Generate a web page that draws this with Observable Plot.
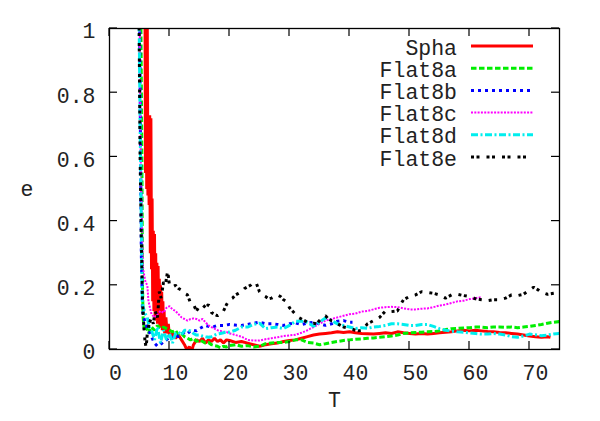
<!DOCTYPE html>
<html>
<head>
<meta charset="utf-8">
<script src="https://cdn.jsdelivr.net/npm/d3@7"></script>
<script src="https://cdn.jsdelivr.net/npm/@observablehq/plot@0.6"></script>
<style>
  html, body { margin: 0; padding: 0; background: #fff; }
  svg { display: block; }
</style>
</head>
<body>
<div id="chart"></div>
<script>
// ---- data: [T, e] pairs ----
const seriesNames = ["Spha", "Flat8a", "Flat8b", "Flat8c", "Flat8d", "Flat8e"];
const xTicks = [0, 10, 20, 30, 40, 50, 60, 70];
const yTicks = [0, 0.2, 0.4, 0.6, 0.8, 1];

const spha = [[5.9,1.2],[6.0,0.55],[6.1,1.1],[6.2,0.5],[6.3,1.0],[6.4,0.48],[6.5,0.73],[6.6,0.45],[6.7,0.73],[6.8,0.3],[6.9,0.72],[7.0,0.25],[7.1,0.47],[7.2,0.15],[7.3,0.37],[7.4,0.12],[7.5,0.36],[7.6,0.1],[7.7,0.3],[7.8,0.09],[7.9,0.27],[8.0,0.08],[8.1,0.26],[8.2,0.08],[8.3,0.22],[8.4,0.07],[8.5,0.2],[8.6,0.07],[8.7,0.18],[8.8,0.06],[8.9,0.15],[9.0,0.06],[9.1,0.12],[9.2,0.05],[9.4,0.1],[9.6,0.05],[9.8,0.08],[10,0.04],[10.5,0.05],[11,0.035],[11.5,0.045],[12,0.03],[12.5,0.015],[13,-0.005],[13.3,0.01],[13.6,-0.01],[14,0.015],[14.5,0.03],[15,0.025],[15.5,0.035],[16,0.02],[16.5,0.03],[17,0.025],[17.5,0.035],[18,0.025],[18.5,0.03],[19,0.02],[19.5,0.03],[20,0.028],[21,0.022],[22,0.025],[23,0.02],[24,0.015],[25,0.01],[25.5,0.012],[26,0.015],[27,0.018],[28,0.02],[29,0.025],[30,0.028],[31,0.03],[32,0.035],[33,0.04],[34,0.045],[35,0.048],[36,0.05],[37,0.052],[38,0.055],[39,0.053],[40,0.055],[41,0.052],[42,0.05],[43,0.049],[44,0.048],[45,0.05],[46,0.052],[47,0.05],[48,0.055],[49,0.052],[50,0.05],[51,0.048],[52,0.05],[53,0.048],[54,0.05],[55,0.052],[56,0.054],[57,0.055],[58,0.058],[59,0.06],[60,0.058],[61,0.06],[62,0.058],[63,0.056],[64,0.055],[65,0.053],[66,0.052],[67,0.05],[68,0.048],[69,0.045],[70,0.042],[71,0.04],[72,0.038],[73,0.04],[73.5,0.038]];

const flat8a = [[5.2,1.1],[5.4,0.6],[5.5,0.2],[5.6,0.1],[5.8,0.06],[6.2,0.07],[6.5,0.05],[7,0.07],[7.5,0.06],[8,0.075],[8.5,0.065],[9,0.07],[9.5,0.065],[10,0.06],[10.5,0.055],[11,0.06],[11.5,0.045],[12,0.05],[12.5,0.04],[13,0.035],[13.5,0.03],[14,0.035],[14.5,0.025],[15,0.03],[15.5,0.025],[16,0.02],[16.5,0.022],[17,0.015],[17.5,0.012],[18,0.01],[18.5,0.005],[19,0.01],[19.5,0.008],[20,0.012],[21,0.015],[22,0.01],[23,0.012],[24,0.008],[25,0.01],[26,0.018],[27,0.02],[28,0.022],[29,0.022],[30,0.025],[31,0.03],[32,0.03],[33,0.022],[34,0.02],[35,0.015],[36,0.018],[37,0.022],[38,0.025],[39,0.028],[40,0.03],[41,0.032],[42,0.033],[43,0.035],[44,0.036],[45,0.038],[46,0.04],[47,0.042],[48,0.045],[49,0.05],[50,0.052],[51,0.053],[52,0.054],[53,0.055],[54,0.056],[55,0.058],[56,0.062],[57,0.065],[58,0.066],[59,0.067],[60,0.068],[61,0.07],[62,0.07],[63,0.068],[64,0.07],[65,0.07],[66,0.069],[67,0.07],[68,0.068],[69,0.07],[70,0.072],[71,0.075],[72,0.078],[73,0.082],[74,0.085],[75,0.087]];

const flat8b = [[5.0,1.1],[5.2,0.55],[5.3,0.3],[5.5,0.12],[5.7,0.1],[6,0.08],[6.5,0.06],[7,0.04],[7.5,0.02],[8,0.01],[8.5,0.015],[9,0.025],[9.5,0.03],[10,0.04],[10.5,0.035],[11,0.045],[11.5,0.04],[12,0.045],[12.5,0.055],[13,0.05],[13.5,0.058],[14,0.06],[14.5,0.058],[15,0.065],[15.5,0.07],[16,0.075],[16.5,0.072],[17,0.07],[17.5,0.072],[18,0.075],[19,0.075],[20,0.078],[21,0.076],[22,0.075],[23,0.078],[24,0.082],[25,0.085],[26,0.08],[27,0.08],[28,0.078],[29,0.075],[30,0.08],[31,0.083],[32,0.078],[33,0.082],[34,0.085],[35,0.08],[36,0.075],[37,0.08],[38,0.088],[39,0.09],[40,0.085],[40.5,0.085]];

const flat8c = [[5.0,1.1],[5.2,0.6],[5.4,0.4],[5.6,0.25],[6,0.21],[6.3,0.2],[6.5,0.15],[7,0.11],[7.5,0.1],[8,0.11],[8.5,0.12],[9,0.115],[9.5,0.13],[10,0.135],[10.5,0.125],[11,0.12],[11.5,0.11],[12,0.1],[12.5,0.095],[13,0.09],[13.5,0.095],[14,0.097],[14.5,0.095],[15,0.09],[15.5,0.095],[16,0.085],[16.5,0.075],[17,0.07],[17.5,0.065],[18,0.06],[18.5,0.058],[19,0.055],[19.5,0.055],[20,0.05],[20.5,0.048],[21,0.045],[22,0.04],[23,0.03],[24,0.028],[25,0.028],[26,0.032],[27,0.035],[28,0.038],[29,0.042],[30,0.044],[31,0.046],[32,0.052],[33,0.06],[34,0.07],[35,0.08],[36,0.09],[37,0.095],[38,0.1],[39,0.105],[40,0.11],[41,0.112],[42,0.118],[43,0.12],[44,0.125],[45,0.13],[46,0.132],[47,0.133],[48,0.132],[49,0.128],[50,0.125],[51,0.125],[52,0.127],[53,0.128],[54,0.132],[55,0.137],[56,0.14],[57,0.145],[58,0.15],[59,0.152],[60,0.157],[61,0.16],[62,0.163]];

const flat8d = [[4.9,1.1],[5.1,0.7],[5.3,0.4],[5.4,0.2],[5.5,0.14],[5.8,0.12],[6,0.11],[6.3,0.1],[6.6,0.07],[7,0.06],[7.5,0.03],[8,0.07],[8.5,0.02],[9,0.06],[9.5,0.03],[10,0.05],[10.5,0.02],[11,0.05],[11.5,0.055],[12,0.045],[12.5,0.06],[13,0.06],[13.5,0.058],[14,0.05],[14.5,0.045],[15,0.045],[15.5,0.042],[16,0.04],[16.5,0.038],[17,0.04],[17.5,0.045],[18,0.048],[18.5,0.05],[19,0.052],[19.5,0.055],[20,0.054],[21,0.06],[22,0.07],[23,0.07],[24,0.078],[25,0.082],[26,0.065],[27,0.068],[28,0.07],[29,0.065],[30,0.075],[31,0.088],[32,0.088],[33,0.085],[34,0.072],[35,0.085],[36,0.098],[37,0.09],[38,0.08],[39,0.075],[40,0.07],[41,0.065],[42,0.068],[43,0.066],[44,0.07],[45,0.072],[46,0.075],[47,0.08],[48,0.08],[49,0.078],[50,0.075],[51,0.075],[52,0.078],[53,0.078],[54,0.072],[55,0.065],[56,0.06],[57,0.057],[58,0.055],[59,0.054],[60,0.052],[61,0.05],[62,0.048],[63,0.048],[64,0.05],[65,0.048],[66,0.045],[67,0.04],[68,0.038],[69,0.042],[70,0.048],[71,0.046],[72,0.043],[73,0.045],[74,0.048],[75,0.05]];

const flat8e = [[4.9,1.1],[5.1,0.6],[5.3,0.35],[5.5,0.15],[5.7,0.08],[5.9,0.03],[6.1,0.005],[6.3,0.05],[6.6,0.08],[7,0.1],[7.3,0.08],[7.6,0.12],[8,0.1],[8.3,0.18],[8.6,0.16],[9,0.21],[9.3,0.2],[9.7,0.245],[10,0.2],[10.5,0.195],[11,0.2],[11.5,0.19],[12,0.185],[12.5,0.175],[13,0.17],[13.5,0.145],[14,0.14],[14.5,0.12],[15,0.135],[15.5,0.14],[16,0.13],[16.5,0.14],[17,0.115],[17.5,0.11],[18,0.105],[18.5,0.11],[19,0.12],[19.5,0.14],[20,0.155],[20.5,0.16],[21,0.17],[21.5,0.175],[22,0.18],[22.5,0.19],[23,0.195],[23.5,0.2],[24,0.21],[24.5,0.205],[25,0.18],[25.5,0.17],[26,0.165],[26.5,0.158],[27,0.16],[27.5,0.165],[28,0.17],[28.5,0.165],[29,0.155],[29.5,0.15],[30,0.13],[30.5,0.12],[31,0.11],[31.5,0.1],[32,0.095],[32.5,0.09],[33,0.085],[33.5,0.08],[34,0.082],[34.5,0.08],[35,0.09],[35.5,0.1],[36,0.105],[36.5,0.095],[37,0.09],[37.5,0.088],[38,0.08],[38.5,0.075],[39,0.07],[39.5,0.068],[40,0.065],[40.5,0.063],[41,0.06],[41.5,0.058],[42,0.06],[42.5,0.07],[43,0.08],[43.5,0.085],[44,0.09],[45,0.1],[46,0.12],[47,0.118],[48,0.12],[48.5,0.14],[49,0.155],[50,0.165],[51,0.17],[52,0.18],[53,0.178],[54,0.175],[55,0.17],[56,0.16],[57,0.17],[58,0.172],[59,0.168],[60,0.165],[61,0.158],[62,0.155],[63,0.152],[64,0.155],[65,0.155],[66,0.16],[67,0.17],[68,0.168],[69,0.172],[70,0.185],[70.7,0.194],[71.5,0.185],[72,0.178],[73,0.172],[74,0.175],[75,0.178]];

// ---- styles ----
const seriesData = [spha, flat8a, flat8b, flat8c, flat8d, flat8e];
const styles = [
  {stroke: "#ff0000", width: 3, dash: null},
  {stroke: "#00ee00", width: 3, dash: "5.5,2.5"},
  {stroke: "#0000ff", width: 3, dash: "3,4"},
  {stroke: "#ff00ff", width: 2, dash: "2,1.3"},
  {stroke: "#00eeee", width: 3, dash: "7,2.5,2,2.5"},
  {stroke: "#000000", width: 3, dash: "3,2.5,3,7"}
];
const FONT = "'Liberation Mono', 'DejaVu Sans Mono', monospace";
const FS = 21.5;

const lineMarks = seriesData.map((d, i) => Plot.line(d, {
  x: p => p[0], y: p => p[1],
  stroke: styles[i].stroke, strokeWidth: styles[i].width,
  strokeDasharray: styles[i].dash, strokeLinejoin: "miter", strokeLinecap: "butt",
  clip: true
}));

const plot = Plot.plot({
  width: 600, height: 421,
  marginLeft: 109, marginRight: 41, marginTop: 28, marginBottom: 72,
  style: {fontFamily: FONT, fontSize: FS + "px", background: "#fff", color: "#000"},
  x: {domain: [0, 75]},
  y: {domain: [0, 1]},
  marks: [
    ...lineMarks,
    Plot.frame({stroke: "#000", strokeWidth: 1.3}),
    Plot.axisX(xTicks, {anchor: "bottom", tickSize: 0, tickPadding: 15, dx: 6, label: null, fontSize: FS, fill: "#222"}),
    Plot.axisY(yTicks, {anchor: "left", tickSize: 0, tickPadding: 14, dy: 3, label: null, fontSize: FS, fill: "#222", tickFormat: d => String(d)}),
    Plot.text(["T"], {frameAnchor: "bottom", dy: 57, fontSize: FS, fill: "#222"}),
    Plot.text(["e"], {frameAnchor: "left", dx: -89, fontSize: FS, fill: "#222"})
  ]
});

// inward ticks on all four sides, through the plot's own scales
const sx = plot.scale("x"), sy = plot.scale("y");
const svg = d3.select(plot);
const x0 = sx.apply(0), x1 = sx.apply(75), y0 = sy.apply(0), y1 = sy.apply(1);
const TL = 8;
const g = svg.append("g").attr("stroke", "#000").attr("stroke-width", 1.2);
xTicks.forEach(t => {
  const px = sx.apply(t);
  g.append("line").attr("x1", px).attr("x2", px).attr("y1", y0).attr("y2", y0 - TL);
  g.append("line").attr("x1", px).attr("x2", px).attr("y1", y1).attr("y2", y1 + TL);
});
yTicks.forEach(t => {
  const py = sy.apply(t);
  g.append("line").attr("y1", py).attr("y2", py).attr("x1", x0).attr("x2", x0 + TL);
  g.append("line").attr("y1", py).attr("y2", py).attr("x1", x1).attr("x2", x1 - TL);
});

// legend (top right, inside the frame)
const lg = svg.append("g");
seriesNames.forEach((name, i) => {
  const yy = y1 + 19 + i * 22.2;
  lg.append("text").attr("x", x1 - 102).attr("y", yy).attr("dy", "0.35em")
    .attr("text-anchor", "end").attr("font-family", FONT).attr("font-size", FS)
    .attr("fill", "#222").text(name);
  lg.append("line").attr("x1", x1 - 88).attr("x2", x1 - 26).attr("y1", yy - 1).attr("y2", yy - 1)
    .attr("stroke", styles[i].stroke).attr("stroke-width", styles[i].width)
    .attr("stroke-dasharray", styles[i].dash);
});

document.getElementById("chart").appendChild(plot);
</script>
</body>
</html>
